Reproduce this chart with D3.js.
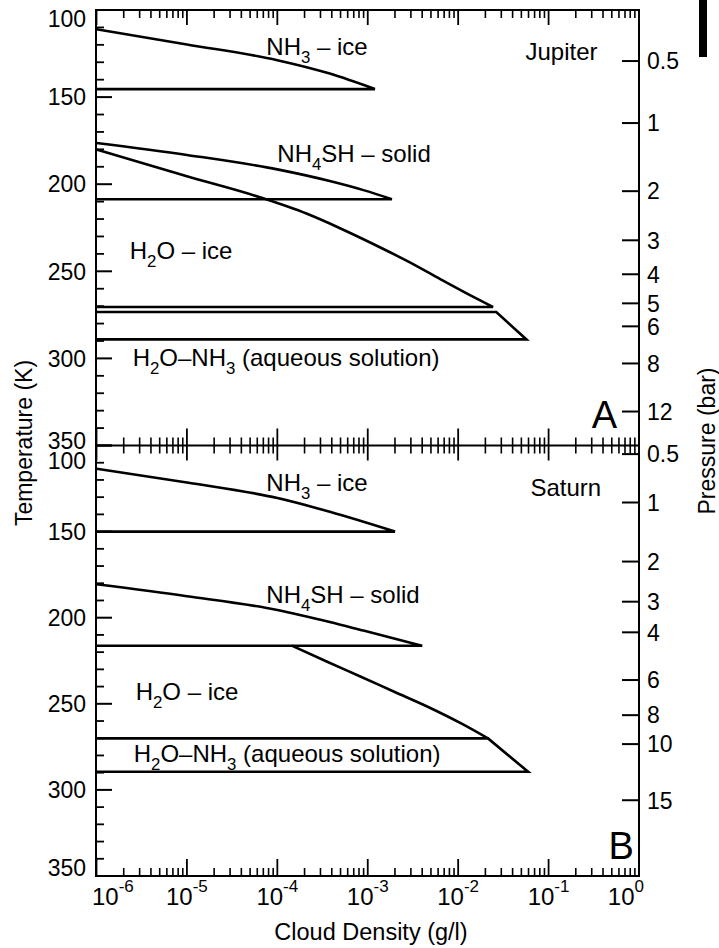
<!DOCTYPE html>
<html><head><meta charset="utf-8">
<script src="https://cdn.jsdelivr.net/npm/d3@7"></script>
<style>
body{margin:0;background:#fff}
svg{display:block}
text{font-family:"Liberation Sans",Arial,Helvetica,sans-serif;fill:#000}
</style>
</head><body>
<svg id="chart" width="719" height="948"></svg>
<script>
// ---------- data ----------
const densityExponents = [-6, -5, -4, -3, -2, -1, 0];
const temperatureTicks = [100, 150, 200, 250, 300, 350];
const temperatureMinorTicks = [110,120,130,140,160,170,180,190,210,220,230,240,260,270,280,290,310,320,330,340];

const jupiterPressureLabels = ["0.5","1","2","3","4","5","6","8","12"];
const jupiterPressureTemps  = [129.3,164.9,204.0,232.2,251.7,268.4,281.6,302.9,330.5];
const saturnPressureLabels  = ["0.5","1","2","3","4","6","8","10","15"];
const saturnPressureTemps   = [105,133.1,167.4,190.7,208.5,236.2,256.6,273.4,306];

// cloud density profiles [density g/l, temperature K]
const jupiterNH3Ice = [[1e-6,111.1],[1e-5,119.8],[1e-4,128.8],[3.8e-4,136.5],[1.2e-3,145.4]];
const jupiterNH4SH  = [[1e-6,176.3],[1e-5,183.2],[1e-4,191.5],[3.8e-4,198.2],[8.95e-4,203.4],[1.85e-3,208.6]];
const jupiterH2OIce = [[1e-6,180.1],[1e-5,195.5],[6.4e-5,207.5],[2.13e-4,217.0],[5e-4,225.4],[1.18e-3,234.6],[2.75e-3,244.2],[6.4e-3,254.6],[0.0151,265.0],[0.0243,270.5]];
const jupiterAqueous = [[1e-6,273.4],[0.0264,273.4],[0.057,289.1],[1e-6,289.1]];

const saturnNH3Ice = [[1e-6,113.5],[1e-5,121.5],[1e-4,130.5],[3.8e-4,138.5],[2.0e-3,150.0]];
const saturnNH4SH  = [[1e-6,180.6],[1e-5,187.5],[1e-4,195.5],[3.8e-4,202.5],[8.95e-4,207.5],[4.0e-3,216.3]];
const saturnH2OIce = [[1.46e-4,216.3],[3.56e-4,225.6],[8.4e-4,234.3],[1.96e-3,243.0],[4.6e-3,251.7],[0.0108,261.4],[0.0214,270.1]];
const saturnAqueous = [[1e-6,270.1],[0.0214,270.1],[0.0594,289.5],[1e-6,289.5]];

// ---------- drawing ----------
const svg = d3.select("#chart");
const X0 = 96, X1 = 639;
const x = d3.scaleLog().domain([1e-6, 1]).range([96.5, 639]);

const panels = [
  {top:10, bottom:445.5, pLabels:jupiterPressureLabels, pTemps:jupiterPressureTemps,
   curves:[jupiterNH3Ice, jupiterNH4SH, jupiterH2OIce], closeLeft:[true,true,true], polys:[jupiterAqueous],
   labelShift:{100:9,350:-5},
   notes:[
     {d:7.55e-5,t:125.9,parts:[["NH"],["3",1],[" – ice"]]},
     {d:1e-4,t:187.4,parts:[["NH"],["4",1],["SH – solid"]]},
     {d:0.0555,t:128.7,parts:[["Jupiter"]]},
     {d:2.33e-6,t:243.1,parts:[["H"],["2",1],["O – ice"]]},
     {d:2.51e-6,t:304.6,parts:[["H"],["2",1],["O–NH"],["3",1],[" (aqueous solution)"]]},
     {d:0.30,t:339.7,parts:[["A"]],big:true}
   ]},
  {top:445.5, bottom:876, pLabels:saturnPressureLabels, pTemps:saturnPressureTemps,
   curves:[saturnNH3Ice, saturnNH4SH, saturnH2OIce], closeLeft:[true,true,false], polys:[saturnAqueous],
   labelShift:{100:15,350:-8},
   notes:[
     {d:7.55e-5,t:126.2,parts:[["NH"],["3",1],[" – ice"]]},
     {d:0.063,t:129.2,parts:[["Saturn"]]},
     {d:7.55e-5,t:191.3,parts:[["NH"],["4",1],["SH – solid"]]},
     {d:2.71e-6,t:247.8,parts:[["H"],["2",1],["O – ice"]]},
     {d:2.58e-6,t:283.7,parts:[["H"],["2",1],["O–NH"],["3",1],[" (aqueous solution)"]]},
     {d:0.46,t:340.2,parts:[["B"]],big:true}
   ]}
];

function addParts(sel, parts, size){
  let sub = false;
  parts.forEach(p=>{
    const ts = sel.append("tspan").text(p[0]);
    if(p[1]){ ts.attr("font-size", size*0.7).attr("dy", 8); sub = true; }
    else if(sub){ ts.attr("dy",-8); sub = false; }
  });
}

// minor/major x ticks
const xMinor = [];
densityExponents.slice(0,-1).forEach(e=>{ for(let k=2;k<=9;k++) xMinor.push(k*Math.pow(10,e)); });
const xMajor = densityExponents.map(e=>Math.pow(10,e));

panels.forEach((p,i)=>{
  const y = d3.scaleLinear().domain([100,350]).range([p.top,p.bottom]);
  const g = svg.append("g");
  const clipId = "clip"+i;
  svg.append("clipPath").attr("id",clipId).append("rect")
    .attr("x",X0).attr("y",p.top).attr("width",X1-X0).attr("height",p.bottom-p.top);
  const cg = g.append("g").attr("clip-path",`url(#${clipId})`)
    .attr("fill","none").attr("stroke","#000").attr("stroke-width",2.6).attr("stroke-linejoin","miter");

  const smooth = d3.line().x(d=>x(d[0])).y(d=>y(d[1])).curve(d3.curveMonotoneX);
  const straight = d3.line().x(d=>x(d[0])).y(d=>y(d[1]));

  p.curves.forEach((c,k)=>{
    const last = c[c.length-1];
    const pathD = smooth(c) + (p.closeLeft[k] ? "L" + x(1e-6) + "," + y(last[1]) : "");
    cg.append("path").attr("d", pathD);
  });
  p.polys.forEach(pl=>cg.append("path").attr("d", straight(pl)));

  // left axis ticks
  g.selectAll(".maj").data(temperatureTicks).join("line")
    .attr("x1",X0).attr("x2",X0+16).attr("y1",d=>y(d)).attr("y2",d=>y(d))
    .attr("stroke","#000").attr("stroke-width",2);
  g.selectAll(".min").data(temperatureMinorTicks).join("line")
    .attr("x1",X0).attr("x2",X0+8).attr("y1",d=>y(d)).attr("y2",d=>y(d))
    .attr("stroke","#000").attr("stroke-width",1.8);
  g.selectAll(".tl").data(temperatureTicks).join("text")
    .attr("x",86).attr("y",d=>y(d)+(p.labelShift[d]||0)).attr("dy","0.36em")
    .attr("text-anchor","end").attr("font-size",23).text(d=>d);

  // right pressure axis
  g.selectAll(".pt").data(p.pTemps).join("line")
    .attr("x1",X1-17).attr("x2",X1).attr("y1",d=>y(d)).attr("y2",d=>y(d))
    .attr("stroke","#000").attr("stroke-width",2);
  g.selectAll(".pl").data(p.pTemps).join("text")
    .attr("x",647).attr("y",d=>y(d)).attr("dy","0.36em").attr("font-size",23)
    .text((d,j)=>p.pLabels[j]);

  // notes
  p.notes.forEach(n=>{
    const size = n.big?38:24;
    const t = g.append("text").attr("x",x(n.d)).attr("y",y(n.t)).attr("font-size",size);
    addParts(t,n.parts,size);
  });
});

// x axis ticks: top (down), middle (both), bottom (up)
const tickRows = [
  {y:10, up:0, down:1},
  {y:445.5, up:1, down:1},
  {y:876, up:1, down:0}
];
tickRows.forEach(r=>{
  const g = svg.append("g");
  g.selectAll(".mi").data(xMinor).join("line")
    .attr("x1",d=>x(d)).attr("x2",d=>x(d))
    .attr("y1",r.y-8*r.up).attr("y2",r.y+8*r.down)
    .attr("stroke","#000").attr("stroke-width",1.6);
  g.selectAll(".ma").data(xMajor).join("line")
    .attr("x1",d=>x(d)).attr("x2",d=>x(d))
    .attr("y1",r.y-17*r.up).attr("y2",r.y+15*r.down)
    .attr("stroke","#000").attr("stroke-width",1.8);
});

// frame
const fr = svg.append("g").attr("stroke","#000").attr("stroke-width",2).attr("fill","none");
fr.append("rect").attr("x",X0).attr("y",10).attr("width",X1-X0).attr("height",866);
fr.append("line").attr("x1",X0).attr("x2",X1).attr("y1",445.5).attr("y2",445.5);

// bottom tick labels
densityExponents.forEach((e,j)=>{
  const last = j===densityExponents.length-1;
  const anchor = j===0 ? "start" : (last ? "end" : "middle");
  const xp = j===0 ? 92 : (last ? 644 : x(Math.pow(10,e)));
  const t = svg.append("text").attr("x",xp).attr("y",905).attr("text-anchor",anchor).attr("font-size",24);
  t.append("tspan").text("10");
  t.append("tspan").attr("dy",-13).attr("font-size",17).text(String(e));
});

// axis titles
svg.append("text").attr("x",371).attr("y",940).attr("text-anchor","middle").attr("font-size",23.5).text("Cloud Density (g/l)");
svg.append("text").attr("transform","translate(32,443) rotate(-90)").attr("text-anchor","middle").attr("font-size",23).text("Temperature (K)");
svg.append("text").attr("transform","translate(715,441) rotate(-90)").attr("text-anchor","middle").attr("font-size",23).text("Pressure (bar)");

// scanning artifact bar at top right
svg.append("rect").attr("x",699).attr("y",0).attr("width",8).attr("height",57).attr("fill","#000");
</script>
</body></html>
